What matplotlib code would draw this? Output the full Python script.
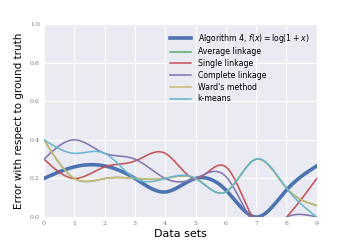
import numpy as np
import matplotlib
matplotlib.use("Agg")
import matplotlib.pyplot as plt

datasets = np.arange(10)
alg4 = [0.20, 0.26, 0.265, 0.20, 0.13, 0.20, 0.14, 0.00, 0.14, 0.265]
average = [0.40, 0.20, 0.20, 0.20, 0.20, 0.20, 0.13, 0.30, 0.15, 0.06]
single = [0.30, 0.20, 0.26, 0.29, 0.33, 0.20, 0.26, -0.03, 0.00, 0.20]
complete = [0.30, 0.40, 0.33, 0.30, 0.20, 0.20, 0.21, -0.04, 0.00, 0.00]
ward = [0.40, 0.20, 0.20, 0.20, 0.20, 0.20, 0.13, 0.30, 0.15, 0.06]
kmeans = [0.40, 0.33, 0.33, 0.20, 0.20, 0.20, 0.13, 0.30, 0.15, 0.00]

labels = [r"Algorithm 4, $f(x) = \log(1+x)$", "Average linkage", "Single linkage",
          "Complete linkage", "Ward's method", "k-means"]
colors = ["#4C72B0", "#55A868", "#C44E52", "#8172B2", "#CCB974", "#64B5CD"]


def smooth(x, y, n=300):
    # natural cubic spline, just for drawing the lines smoothly
    x = np.asarray(x, float)
    y = np.asarray(y, float)
    h = np.diff(x)
    m = len(x)
    A = np.zeros((m, m))
    b = np.zeros(m)
    A[0, 0] = A[-1, -1] = 1
    for i in range(1, m - 1):
        A[i, i - 1] = h[i - 1]
        A[i, i] = 2 * (h[i - 1] + h[i])
        A[i, i + 1] = h[i]
        b[i] = 6 * ((y[i + 1] - y[i]) / h[i] - (y[i] - y[i - 1]) / h[i - 1])
    M = np.linalg.solve(A, b)
    xs = np.linspace(x[0], x[-1], n)
    idx = np.clip(np.searchsorted(x, xs) - 1, 0, m - 2)
    x0, x1 = x[idx], x[idx + 1]
    hh = x1 - x0
    t0, t1 = x1 - xs, xs - x0
    ys = (M[idx] * t0 ** 3 + M[idx + 1] * t1 ** 3) / (6 * hh) \
        + (y[idx] / hh - M[idx] * hh / 6) * t0 + (y[idx + 1] / hh - M[idx + 1] * hh / 6) * t1
    return xs, ys


fig = plt.figure(figsize=(3.52, 2.42), dpi=100)
ax = fig.add_axes([0.125, 0.103, 0.775, 0.798])
ax.set_facecolor("#EAEAF2")
for s in ax.spines.values():
    s.set_visible(False)
ax.grid(True, color="white", linewidth=0.8)
ax.set_axisbelow(True)

series = [alg4, average, single, complete, ward, kmeans]
for i, (vals, lab, col) in enumerate(zip(series, labels, colors)):
    xs, ys = smooth(datasets, vals)
    ax.plot(xs, ys, color=col, lw=2.6 if i == 0 else 1.1, label=lab)

ax.set_xlim(0, 9)
ax.set_ylim(0, 1)
ax.set_xticks(datasets)
ax.set_yticks(np.arange(0, 1.01, 0.2))
ax.set_yticklabels([f"{v:.1f}" for v in np.arange(0, 1.01, 0.2)])
ax.tick_params(length=0, pad=3, labelsize=4.5, labelcolor="#777777")
for t in ax.get_xticklabels() + ax.get_yticklabels():
    t.set_family("DejaVu Serif")
ax.set_xlabel("Data sets", fontsize=8, labelpad=2)
ax.set_ylabel("Error with respect to ground truth", fontsize=7.5, labelpad=4)
leg = ax.legend(loc="upper right", frameon=False, fontsize=5.6, handlelength=2.8,
                labelspacing=0.35, borderaxespad=0.6)

fig.savefig("out.png", dpi=100)
